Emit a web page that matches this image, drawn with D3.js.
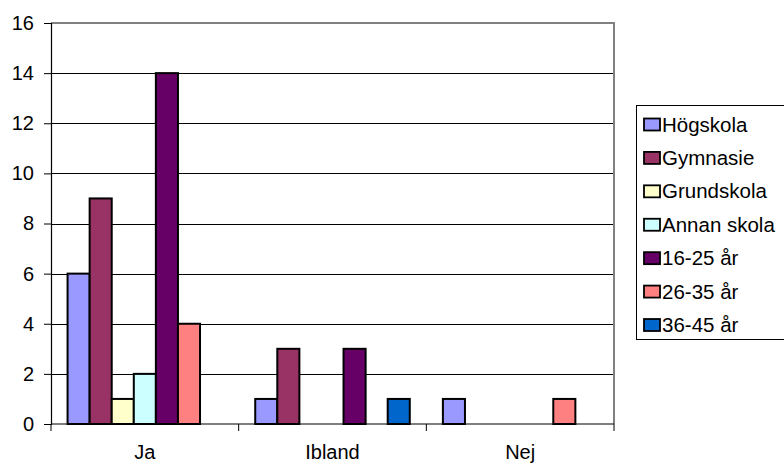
<!DOCTYPE html>
<html>
<head>
<meta charset="utf-8">
<script src="https://cdn.jsdelivr.net/npm/d3@7"></script>
<style>
  html, body { margin: 0; padding: 0; background: #fff; }
  svg { display: block; }
  text { font-family: "Liberation Sans", Arial, sans-serif; fill: #000; }
</style>
</head>
<body>
<svg id="chart" width="784" height="464"></svg>
<script>
// Answer categories along the x axis
const categories = ["Ja", "Ibland", "Nej"];

// One series per respondent group
const seriesNames = ["Högskola", "Gymnasie", "Grundskola", "Annan skola", "16-25 år", "26-35 år", "36-45 år"];
const hogskola   = [6, 1, 1];
const gymnasie   = [9, 3, 0];
const grundskola = [1, 0, 0];
const annanSkola = [2, 0, 0];
const ar16_25    = [14, 3, 0];
const ar26_35    = [4, 0, 1];
const ar36_45    = [0, 1, 0];
const seriesValues = [hogskola, gymnasie, grundskola, annanSkola, ar16_25, ar26_35, ar36_45];
const seriesColors = ["#9999FF", "#993366", "#FFFFCC", "#CCFFFF", "#660066", "#FF8080", "#0066CC"];

const yTicks = [0, 2, 4, 6, 8, 10, 12, 14, 16];

const svg = d3.select("#chart");
const plot = { left: 51, right: 614, top: 23, bottom: 424 };
const fontSize = 20;

const y = d3.scaleLinear().domain([0, 16]).range([plot.bottom, plot.top]);
const x0 = d3.scaleBand().domain(categories).range([plot.left, plot.right]).padding(0);
// gap of 1.5 bar widths split on both sides of each cluster
const barW = x0.bandwidth() / (seriesNames.length + 1.5);
const x1 = d3.scaleBand().domain(seriesNames)
  .range([barW * 0.75, barW * 0.75 + barW * seriesNames.length]).padding(0);

// horizontal gridlines
svg.append("g").selectAll("line")
  .data(yTicks.filter(t => t > 0 && t < 16))
  .join("line")
  .attr("x1", plot.left).attr("x2", plot.right)
  .attr("y1", d => Math.round(y(d)) + 0.5).attr("y2", d => Math.round(y(d)) + 0.5)
  .attr("stroke", "#000").attr("stroke-width", 1);

// plot area frame (top and right)
svg.append("path")
  .attr("d", `M${plot.left},${plot.top} H${plot.right} V${plot.bottom}`)
  .attr("fill", "none").attr("stroke", "#808080").attr("stroke-width", 2);

// bars
const rows = [];
seriesNames.forEach((s, si) => {
  categories.forEach((c, ci) => {
    rows.push({ series: s, cat: c, value: seriesValues[si][ci], color: seriesColors[si] });
  });
});
svg.append("g").selectAll("rect")
  .data(rows.filter(d => d.value > 0))
  .join("rect")
  .attr("x", d => x0(d.cat) + x1(d.series))
  .attr("y", d => y(d.value))
  .attr("width", x1.bandwidth())
  .attr("height", d => y(0) - y(d.value))
  .attr("fill", d => d.color)
  .attr("stroke", "#000").attr("stroke-width", 2);

// y axis
const yAxis = d3.axisLeft(y).tickValues(yTicks).tickSize(7).tickPadding(10).tickFormat(d3.format("d"));
const gy = svg.append("g").attr("transform", `translate(${plot.left},0)`).call(yAxis);
gy.select(".domain").attr("stroke", "#000").attr("stroke-width", 1.2);
gy.selectAll(".tick line").attr("stroke", "#000");
gy.selectAll("text").attr("font-size", fontSize).attr("font-family", "Liberation Sans, Arial, sans-serif").attr("fill", "#000");

// x axis with ticks at cluster boundaries
const gx = svg.append("g").attr("transform", `translate(0,${plot.bottom})`);
gx.append("line").attr("x1", plot.left).attr("x2", plot.right).attr("y1", 0).attr("y2", 0)
  .attr("stroke", "#000").attr("stroke-width", 1.2);
const boundaries = categories.map(c => x0(c)).concat([plot.right]);
gx.selectAll("line.tk").data(boundaries).join("line").attr("class", "tk")
  .attr("x1", d => d).attr("x2", d => d).attr("y1", 0).attr("y2", 7)
  .attr("stroke", "#000");
gx.selectAll("text").data(categories).join("text")
  .attr("x", d => x0(d) + x0.bandwidth() / 2)
  .attr("y", 35)
  .attr("text-anchor", "middle")
  .attr("font-size", fontSize)
  .text(d => d);

// legend
const legend = svg.append("g");
legend.append("rect")
  .attr("x", 636.5).attr("y", 105.5).attr("width", 160).attr("height", 234)
  .attr("fill", "#fff").attr("stroke", "#000").attr("stroke-width", 1);
const rowY = d3.scalePoint().domain(seriesNames).range([124.5, 325]);
const items = legend.selectAll("g.item").data(seriesNames).join("g").attr("class", "item")
  .attr("transform", d => `translate(0,${rowY(d)})`);
items.append("rect")
  .attr("x", 644).attr("y", -6).attr("width", 16).attr("height", 12)
  .attr("fill", (d, i) => seriesColors[i]).attr("stroke", "#000").attr("stroke-width", 1.8);
items.append("text")
  .attr("x", 662).attr("y", 7)
  .attr("font-size", 20.5)
  .text(d => d);
</script>
</body>
</html>
